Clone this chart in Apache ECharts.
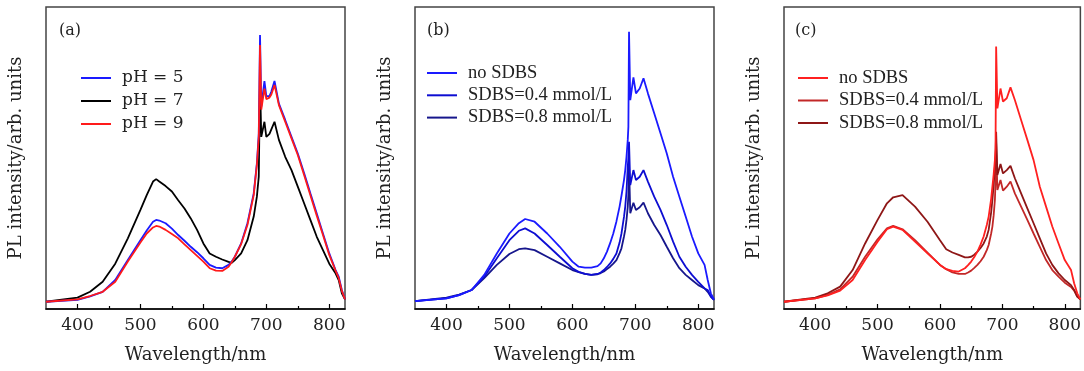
<!DOCTYPE html>
<html><head><meta charset="utf-8">
<script src="https://cdn.jsdelivr.net/npm/echarts@6/dist/echarts.min.js"></script>
<style>html,body{margin:0;padding:0;background:#fff}#c{width:1084px;height:371px}</style>
</head><body><div id="c"></div>
<script>
// ---------- data ----------
const xTicks = [400, 500, 600, 700, 800];
const xMinorTicks = [450, 550, 650, 750];

// panel (a)
const wlA = [350,400,420,440,460,480,500,510,520,525,530,540,550,560,570,580,590,600,610,620,630,640,645,650,660,670,680,685,688,690,692,697,700,705,708,713,720,730,740,750,760,770,780,790,800,810,815,820,825];
const pH5 = [2.4,3,4.2,5.7,9.6,16.2,22.8,26,28.9,29.5,29.3,28.4,26.6,24.5,22.6,20.6,18.8,16.8,14.6,13.7,13.5,14.6,15.7,17.3,21.7,28.4,38.3,48.2,58,90.7,67,75.5,70.5,70.5,72,75.5,68,62.6,57,51.5,45,38.3,31.7,25,18.4,12.9,10.7,6.3,3.2];
const pH7 = [2.4,3.75,5.7,9,15,23.4,32.8,37.7,42.2,43,42.2,40.7,38.9,36,33.3,30,26.2,21.7,18.4,17.3,16.4,15.6,15.3,16.2,18.4,22.8,30.6,37.2,43.8,75,57,62,57,58,59.5,62,56,50.4,46,40.5,35,29.5,24,19.5,15,11.8,9.6,5.2,3.2];
const pH9 = [2.4,3.2,4.3,5.7,9,15.7,22,25,27,27.5,27.3,26.2,24.8,23.4,21.4,19.5,17.6,15.7,13.5,12.7,12.6,14,15.5,17.3,21.5,27.8,37.7,47.7,57,87.4,66,73,69.5,70,71,74.2,67.5,62,56.5,51,44.4,37.7,31,24.5,17.9,12.7,10.2,6,3.2];

// panel (b)
const wlB = [350,400,420,440,460,480,500,515,525,540,560,580,600,610,620,630,640,645,650,655,660,665,670,675,678,682,684,686,688,689,690,692,697,701,707,713,720,730,740,750,760,770,780,790,800,810,815,820,825];
const bNo = [2.6,3.5,4.6,6.3,11.3,18.4,25,28.4,29.8,28.9,25,20.6,15.7,14,13.7,13.7,14.2,15.1,16.8,19,21.8,25,29,33.9,37.5,42.7,46,50.4,56,60.4,91.8,69.2,76.7,71.4,73,76.4,71.4,64.8,58.2,51.5,43.8,37.2,30.6,24,18.4,14.6,9.6,5.2,3.2];
const b04 = [2.6,3.5,4.6,6.3,10.7,16.8,22.8,25.9,26.7,25,21.2,17.3,13.5,12.3,11.6,11.3,11.6,12.1,12.9,13.9,15.1,16.6,18.4,22,25,30.5,33.9,39,47.1,50,55.4,41,46,42.7,43.8,46,42.2,37.2,32.8,27.8,22.3,17.3,14,11.3,9,6.8,6.3,4.1,3];
const b08 = [2.6,3.75,4.8,6.3,10.2,14.6,18.2,19.8,20.1,19.5,17.3,15.1,12.9,12.2,11.6,11.3,11.5,11.9,12.4,13.2,14,15,16.2,18.5,20.1,24,26.2,29.5,33.9,38,47.7,31.7,35.2,32.8,33.7,35.2,31.7,27.8,24.5,20.6,16.8,13.5,11.3,9.6,7.9,6.8,5.7,4.1,3];

// panel (c)
const wlC = [350,400,420,440,460,480,500,515,525,540,560,580,600,610,620,630,640,645,650,655,660,665,670,675,678,682,684,686,688,689,690,692,697,701,707,713,720,730,740,750,760,770,780,790,800,810,815,820,825];
const cNo = [2.4,3.5,4.5,6.1,9.6,16.2,22.3,26.4,27.3,26.2,22.3,18.4,14.6,13.2,12.6,12.4,13.5,14.5,15.7,17.2,19,21.3,24,27.8,30.6,36.5,40.5,44.5,49.3,53,86.9,66.4,73,68.7,69.8,73.4,69.2,62.6,56,49.3,40.5,33.9,27.3,21.7,16.2,12.9,8.5,5.2,3.2];
const c04 = [2.4,3.5,4.7,6.5,10.7,17.3,23.1,26.7,27.5,26.4,22.8,18.7,14.6,13.2,12.1,11.6,11.6,12.1,12.7,13.6,14.6,15.8,17.3,19.5,21.2,25,27.3,31,36.1,42,54.9,39.4,42.7,39.2,40.5,42.2,38.3,33.9,29.5,25,20.6,16.2,12.9,10.7,8.7,7.3,6.1,4.1,3.2];
const c08 = [2.4,3.75,5.2,7.4,12.9,21.7,29.5,35,37,37.7,33.9,28.9,22.8,19.8,18.7,17.9,17.1,17.1,17.3,18,19,20.2,21.7,24,26.2,32,36.1,41,47.1,51,58.7,44.4,48,44.9,46,47.4,43.3,38.3,33.3,28.4,23.4,18.4,14.6,11.8,9.6,7.9,6.3,4.1,3.2];

const labelsA = ['pH = 5', 'pH = 7', 'pH = 9'];
const labelsBC = ['no SDBS', 'SDBS=0.4 mmol/L', 'SDBS=0.8 mmol/L'];
const panelTags = ['(a)', '(b)', '(c)'];

// ---------- chart ----------
const SERIF = 'DejaVu Serif';
const TIMES = 'Liberation Serif';
const pairs = (wl, v) => wl.map((x, i) => [x, v[i]]);

const gridLefts = [46, 415, 784];
const grids = gridLefts.map(l => ({
  left: l, top: 7, width: 299, height: 302, show: true,
  borderColor: '#444', borderWidth: 1.5, backgroundColor: 'transparent'
}));

const xAxes = [];
const yAxes = [];
gridLefts.forEach((l, gi) => {
  xAxes.push({
    type: 'value', gridIndex: gi, min: 350, max: 825, position: 'bottom',
    axisLine: { show: true, onZero: false, lineStyle: { color: '#000', width: 1.5 } },
    axisTick: { show: true, inside: true, length: 5, customValues: xTicks, lineStyle: { color: '#000', width: 1.2 } },
    axisLabel: { show: true, customValues: xTicks, margin: 8, fontFamily: SERIF, fontSize: 17, color: '#222' },
    splitLine: { show: false },
    name: 'Wavelength/nm', nameLocation: 'middle', nameGap: 37,
    nameTextStyle: { fontFamily: SERIF, fontSize: 18, color: '#222' }
  });
  xAxes.push({
    type: 'value', gridIndex: gi, min: 350, max: 825, position: 'bottom',
    axisLine: { show: false, onZero: false },
    axisTick: { show: true, inside: true, length: 3, customValues: xMinorTicks, lineStyle: { color: '#000', width: 1.2 } },
    axisLabel: { show: false }, splitLine: { show: false }
  });
  yAxes.push({
    type: 'value', gridIndex: gi, min: 0, max: 100,
    axisLine: { show: false }, axisTick: { show: false }, axisLabel: { show: false }, splitLine: { show: false },
    name: 'PL intensity/arb. units', nameLocation: 'middle', nameGap: 21,
    nameTextStyle: { fontFamily: SERIF, fontSize: 18, color: '#222' }
  });
});

function line(name, gi, wl, vals, color) {
  return {
    type: 'line', name: name, xAxisIndex: gi * 2, yAxisIndex: gi,
    data: pairs(wl, vals), showSymbol: false, symbol: 'none',
    lineStyle: { width: 1.8, color: color }, itemStyle: { color: color },
    emphasis: { disabled: true }, animation: false
  };
}

const series = [
  line('a|' + labelsA[1], 0, wlA, pH7, '#000000'),
  line('a|' + labelsA[0], 0, wlA, pH5, '#1a1aff'),
  line('a|' + labelsA[2], 0, wlA, pH9, '#ff1a1a'),
  line('b|' + labelsBC[2], 1, wlB, b08, '#16168c'),
  line('b|' + labelsBC[1], 1, wlB, b04, '#0d0dd2'),
  line('b|' + labelsBC[0], 1, wlB, bNo, '#1a1aff'),
  line('c|' + labelsBC[1], 2, wlC, c04, '#c22828'),
  line('c|' + labelsBC[2], 2, wlC, c08, '#8e1616'),
  line('c|' + labelsBC[0], 2, wlC, cNo, '#ff2020')
];

function legend(prefix, labels, left, top, gap, font, size) {
  return {
    data: labels.map(t => prefix + '|' + t), orient: 'vertical', left: left, top: top,
    icon: 'rect', itemWidth: 30, itemHeight: 2, itemGap: gap, padding: 0,
    selectedMode: false,
    formatter: n => n.split('|')[1],
    textStyle: { fontFamily: font, fontSize: size, lineHeight: 20, color: '#222', padding: [0, 0, 0, 6] }
  };
}

const option = {
  animation: false,
  backgroundColor: '#fff',
  grid: grids,
  xAxis: xAxes,
  yAxis: yAxes,
  title: panelTags.map((t, i) => ({
    text: t, left: [59, 427, 795][i], top: 23, padding: 0,
    textStyle: { fontFamily: SERIF, fontSize: 16, fontWeight: 'normal', color: '#222' }
  })),
  legend: [
    legend('a', labelsA, 81, 68, 3, SERIF, 17),
    legend('b', labelsBC, 427, 63, 2.3, TIMES, 18.5),
    legend('c', labelsBC, 798, 68, 2.5, TIMES, 18.5)
  ],
  series: series
};

const chart = echarts.init(document.getElementById('c'), null, { renderer: 'canvas' });
chart.setOption(option);
</script>
</body></html>
